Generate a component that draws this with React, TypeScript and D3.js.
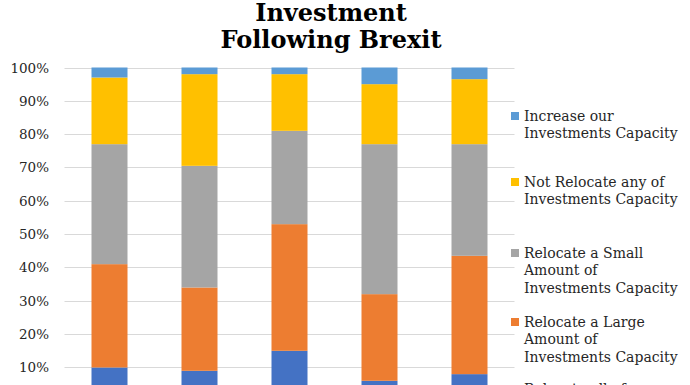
import React from 'react';
import * as d3 from 'd3';

const categories = ['A', 'B', 'C', 'D', 'E'];
const relocateAll = [10, 9, 15, 6, 8];
const relocateLarge = [31, 25, 38, 26, 35.5];
const relocateSmall = [36, 36.5, 28, 45, 33.5];
const notRelocate = [20, 27.5, 17, 18, 19.5];
const increase = [3, 2, 2, 5, 3.5];
const yTicks = [0, 0.1, 0.2, 0.3, 0.4, 0.5, 0.6, 0.7, 0.8, 0.9, 1];

const seriesKeys = ['relocateAll', 'relocateLarge', 'relocateSmall', 'notRelocate', 'increase'];
const seriesColors = ['#4472C4', '#ED7D31', '#A5A5A5', '#FFC000', '#5B9BD5'];
const legendLabels = [
  ['Increase our', 'Investments Capacity'],
  ['Not Relocate any of', 'Investments Capacity'],
  ['Relocate a Small', 'Amount of', 'Investments Capacity'],
  ['Relocate a Large', 'Amount of', 'Investments Capacity'],
  ['Relocate all of', 'Investments Capacity'],
];
const legendColors = ['#5B9BD5', '#FFC000', '#A5A5A5', '#ED7D31', '#4472C4'];
const legendTops = [112, 178, 249, 318, 385];

class StackedChart extends React.Component<any, any> {
  svgRef: any;
  constructor(props) {
    super(props);
    this.svgRef = React.createRef();
    this.d3Render = this.d3Render.bind(this);
  }

  componentDidMount() {
    this.d3Render();
  }

  d3Render() {
    const svg = d3.select(this.svgRef.current);
    svg.selectAll('*').remove();

    const rows = categories.map((c, i) => ({
      cat: c,
      relocateAll: relocateAll[i] / 100,
      relocateLarge: relocateLarge[i] / 100,
      relocateSmall: relocateSmall[i] / 100,
      notRelocate: notRelocate[i] / 100,
      increase: increase[i] / 100,
    }));
    const stacked = d3.stack().keys(seriesKeys)(rows as any);

    const x = d3.scaleBand().domain(categories).range([64.5, 514.5]).paddingInner(0.6).paddingOuter(0.3);
    const y = d3.scaleLinear().domain([0, 1]).range([400.8, 67.5]);

    const serif = '"DejaVu Serif", serif';

    // title
    const title = svg.append('text')
      .attr('text-anchor', 'middle')
      .attr('font-family', serif)
      .attr('font-weight', 'bold')
      .attr('font-size', 24)
      .attr('fill', '#000');
    title.append('tspan').attr('x', 331).attr('y', 21).text('Investment');
    title.append('tspan').attr('x', 331).attr('y', 47.5).text('Following Brexit');

    // gridlines
    svg.append('g').selectAll('line').data(yTicks).enter().append('line')
      .attr('x1', 64.5).attr('x2', 514.5)
      .attr('y1', (d) => Math.round(y(d)) + 0.5).attr('y2', (d) => Math.round(y(d)) + 0.5)
      .attr('stroke', '#d9d9d9').attr('stroke-width', 1);

    // y labels (0% sits below the visible area, so it is left out)
    svg.append('g').selectAll('text').data(yTicks.filter((d) => d > 0)).enter().append('text')
      .attr('x', 49).attr('y', (d) => y(d) + 5)
      .attr('text-anchor', 'end')
      .attr('font-family', serif).attr('font-size', 13.5)
      .attr('fill', '#262626')
      .text((d) => d3.format('.0%')(d));

    // bars
    stacked.forEach((layer, i) => {
      svg.append('g').attr('fill', seriesColors[i]).selectAll('rect').data(layer).enter().append('rect')
        .attr('x', (d: any) => x(d.data.cat))
        .attr('width', x.bandwidth())
        .attr('y', (d) => y(d[1]))
        .attr('height', (d) => y(d[0]) - y(d[1]));
    });

    // legend
    const legend = svg.append('g');
    legendLabels.forEach((lines, i) => {
      const top = legendTops[i];
      legend.append('rect')
        .attr('x', 511).attr('y', top).attr('width', 8).attr('height', 8)
        .attr('fill', legendColors[i]);
      const t = legend.append('text')
        .attr('font-family', serif).attr('font-size', 14).attr('fill', '#262626');
      lines.forEach((ln, j) => {
        t.append('tspan').attr('x', 524).attr('y', top + 8.5 + j * 17.8).text(ln);
      });
    });
  }

  render() {
    return <svg ref={this.svgRef} width={690} height={385} style={{ display: 'block' }}></svg>;
  }
}

export default function App() {
  return (
    <div style={{ position: 'fixed', top: 0, left: 0, width: 690, height: 385, overflow: 'hidden', background: '#fff' }}>
      <StackedChart />
    </div>
  );
}
